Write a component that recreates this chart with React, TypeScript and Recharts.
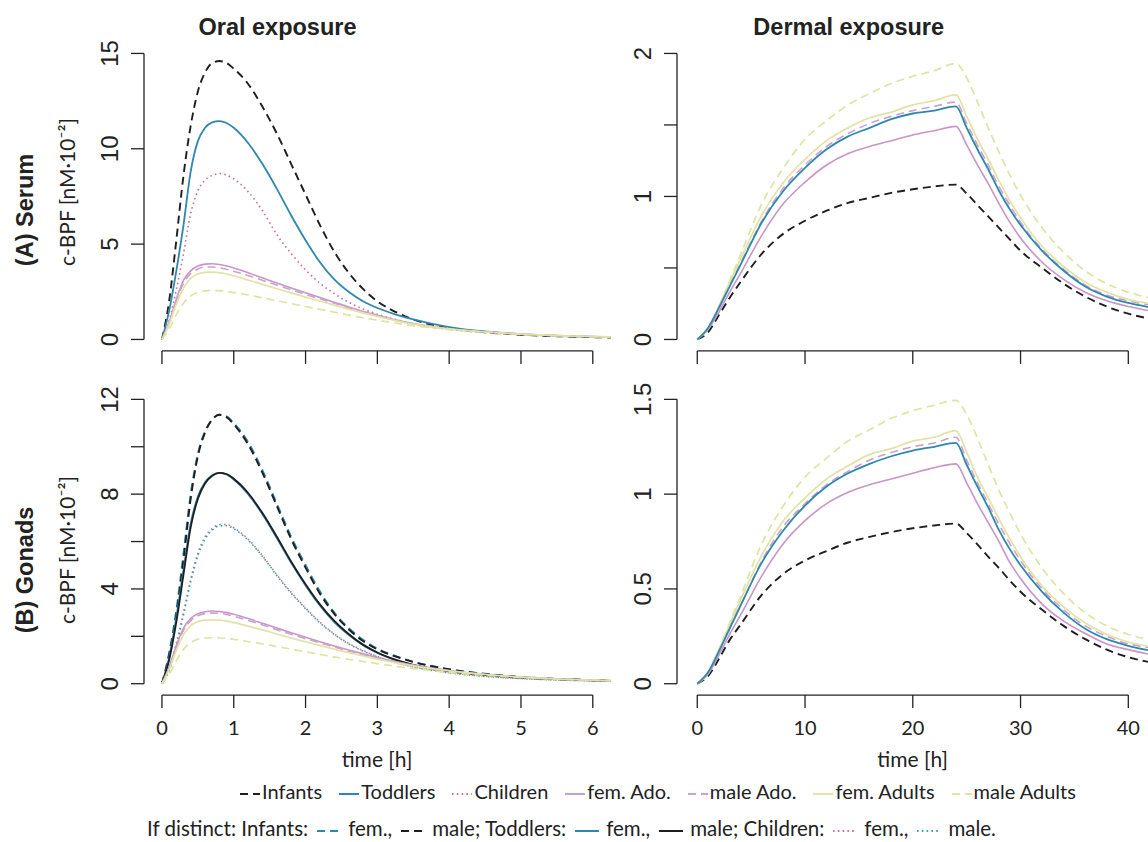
import React from "react";
import { LineChart, Line, XAxis, YAxis, ReferenceLine } from "recharts";

// ---------- time grids ----------
const oralTimes = [0, 0.1, 0.2, 0.3, 0.4, 0.5, 0.6, 0.7, 0.8, 0.9, 1.0, 1.2, 1.4, 1.6, 1.8, 2.0, 2.2, 2.4, 2.6, 2.8, 3.0, 3.25, 3.5, 4.0, 4.5, 5.0, 5.5, 6.0, 6.25];
const dermalTimes = [0, 1, 2, 3, 4, 6, 8, 10, 12, 14, 16, 18, 20, 22, 24, 25, 26, 27, 28, 29, 30, 32, 34, 36, 38, 40, 42, 44];

// ---------- tick values / labels ----------
const oralXTicks = [0, 1, 2, 3, 4, 5, 6];
const dermalXTicks = [0, 10, 20, 30, 40];
const serumOralYTicks = [0, 5, 10, 15];
const serumOralYLabels = ["0", "5", "10", "15"];
const serumDermalYTicks = [0, 0.5, 1, 1.5, 2];
const serumDermalYLabels = ["0", "", "1", "", "2"];
const gonadOralYTicks = [0, 2, 4, 6, 8, 10, 12];
const gonadOralYLabels = ["0", "", "4", "", "8", "", "12"];
const gonadDermalYTicks = [0, 0.5, 1, 1.5];
const gonadDermalYLabels = ["0", "0.5", "1", "1.5"];

// ---------- (A) Serum, oral ----------
const serumOralInfants = [0, 2.0, 5.2, 8.6, 11.2, 13.0, 14.0, 14.5, 14.6, 14.5, 14.2, 13.4, 12.2, 10.8, 9.2, 7.6, 6.0, 4.6, 3.5, 2.65, 2.0, 1.45, 1.05, 0.6, 0.38, 0.25, 0.17, 0.12, 0.1];
const serumOralToddlers = [0, 1.5, 3.6, 6.0, 8.8, 10.4, 11.1, 11.38, 11.45, 11.35, 11.1, 10.3, 9.2, 7.9, 6.5, 5.2, 4.05, 3.15, 2.5, 2.0, 1.65, 1.32, 1.05, 0.65, 0.42, 0.28, 0.19, 0.14, 0.12];
const serumOralChildren = [0, 1.0, 2.6, 4.5, 6.6, 7.8, 8.35, 8.6, 8.7, 8.62, 8.42, 7.75, 6.75, 5.5, 4.5, 3.65, 2.95, 2.4, 1.95, 1.6, 1.32, 1.05, 0.82, 0.53, 0.36, 0.25, 0.18, 0.13, 0.11];
const serumOralFemAdo = [0, 0.9, 2.1, 3.1, 3.6, 3.85, 3.95, 3.97, 3.93, 3.85, 3.75, 3.5, 3.23, 2.96, 2.7, 2.45, 2.2, 1.95, 1.7, 1.47, 1.27, 1.03, 0.83, 0.56, 0.39, 0.28, 0.2, 0.15, 0.13];
const serumOralMaleAdo = [0, 0.85, 2.0, 2.95, 3.45, 3.7, 3.8, 3.8, 3.76, 3.68, 3.58, 3.35, 3.1, 2.85, 2.6, 2.36, 2.13, 1.9, 1.66, 1.44, 1.25, 1.01, 0.82, 0.56, 0.39, 0.28, 0.2, 0.15, 0.13];
const serumOralFemAdults = [0, 0.8, 1.85, 2.7, 3.2, 3.43, 3.52, 3.53, 3.5, 3.43, 3.34, 3.12, 2.89, 2.66, 2.44, 2.22, 2.01, 1.8, 1.59, 1.39, 1.21, 0.99, 0.8, 0.55, 0.39, 0.28, 0.2, 0.15, 0.13];
const serumOralMaleAdults = [0, 0.55, 1.3, 1.9, 2.28, 2.47, 2.55, 2.57, 2.56, 2.52, 2.46, 2.33, 2.18, 2.03, 1.88, 1.73, 1.58, 1.43, 1.28, 1.14, 1.01, 0.86, 0.72, 0.52, 0.38, 0.28, 0.2, 0.15, 0.13];

// ---------- (B) Gonads, oral ----------
const gonadOralInfantsFem = [0, 1.3, 3.1, 5.5, 8.0, 9.7, 10.65, 11.15, 11.35, 11.28, 11.0, 10.2, 9.0, 7.6, 6.2, 5.0, 3.9, 3.0, 2.35, 1.85, 1.48, 1.17, 0.93, 0.61, 0.42, 0.29, 0.2, 0.15, 0.13];
const gonadOralInfantsMale = [0, 1.2, 2.9, 5.2, 7.8, 9.6, 10.6, 11.15, 11.35, 11.25, 10.95, 10.1, 8.9, 7.5, 6.1, 4.9, 3.8, 2.95, 2.3, 1.8, 1.45, 1.15, 0.92, 0.6, 0.41, 0.28, 0.2, 0.15, 0.13];
const gonadOralToddlersFem = [0, 1.1, 2.8, 4.8, 6.75, 7.9, 8.5, 8.8, 8.9, 8.83, 8.62, 8.0, 7.15, 6.15, 5.1, 4.15, 3.3, 2.6, 2.06, 1.62, 1.3, 1.0, 0.79, 0.52, 0.36, 0.26, 0.19, 0.14, 0.12];
const gonadOralToddlersMale = [0, 1.0, 2.6, 4.6, 6.6, 7.8, 8.45, 8.78, 8.9, 8.85, 8.65, 8.05, 7.2, 6.2, 5.15, 4.2, 3.35, 2.65, 2.1, 1.65, 1.32, 1.02, 0.8, 0.53, 0.37, 0.26, 0.19, 0.14, 0.12];
const gonadOralChildrenFem = [0, 0.6, 1.7, 3.0, 4.4, 5.5, 6.2, 6.55, 6.72, 6.72, 6.58, 6.1, 5.4, 4.6, 3.85, 3.2, 2.6, 2.1, 1.7, 1.4, 1.15, 0.9, 0.72, 0.47, 0.32, 0.22, 0.16, 0.12, 0.1];
const gonadOralChildrenMale = [0, 0.55, 1.6, 2.9, 4.3, 5.4, 6.1, 6.48, 6.66, 6.67, 6.54, 6.06, 5.37, 4.57, 3.82, 3.17, 2.57, 2.08, 1.68, 1.38, 1.13, 0.89, 0.71, 0.46, 0.31, 0.22, 0.16, 0.12, 0.1];
const gonadOralFemAdo = [0, 0.7, 1.6, 2.35, 2.75, 2.95, 3.04, 3.07, 3.05, 3.0, 2.93, 2.75, 2.55, 2.35, 2.15, 1.96, 1.77, 1.59, 1.42, 1.26, 1.11, 0.94, 0.79, 0.56, 0.4, 0.29, 0.21, 0.15, 0.13];
const gonadOralMaleAdo = [0, 0.66, 1.52, 2.25, 2.66, 2.87, 2.96, 2.98, 2.97, 2.92, 2.85, 2.67, 2.48, 2.28, 2.09, 1.9, 1.72, 1.55, 1.38, 1.23, 1.09, 0.92, 0.78, 0.55, 0.39, 0.28, 0.2, 0.15, 0.13];
const gonadOralFemAdults = [0, 0.6, 1.4, 2.07, 2.45, 2.62, 2.68, 2.69, 2.68, 2.64, 2.58, 2.43, 2.27, 2.1, 1.93, 1.77, 1.61, 1.46, 1.31, 1.17, 1.04, 0.89, 0.75, 0.54, 0.39, 0.28, 0.2, 0.15, 0.13];
const gonadOralMaleAdults = [0, 0.4, 0.97, 1.45, 1.74, 1.88, 1.93, 1.94, 1.93, 1.91, 1.87, 1.78, 1.68, 1.57, 1.46, 1.35, 1.24, 1.13, 1.03, 0.94, 0.85, 0.74, 0.64, 0.48, 0.36, 0.27, 0.2, 0.15, 0.13];

// ---------- (A) Serum, dermal ----------
const serumDermalInfants = [0, 0.05, 0.17, 0.29, 0.4, 0.6, 0.74, 0.83, 0.9, 0.955, 0.99, 1.025, 1.05, 1.07, 1.083, 1.02, 0.94, 0.86, 0.78, 0.7, 0.62, 0.5, 0.39, 0.3, 0.23, 0.18, 0.145, 0.115];
const serumDermalToddlers = [0, 0.08, 0.22, 0.37, 0.52, 0.82, 1.04, 1.2, 1.33, 1.42, 1.48, 1.54, 1.58, 1.6, 1.63, 1.48, 1.33, 1.19, 1.04, 0.91, 0.8, 0.62, 0.48, 0.37, 0.3, 0.255, 0.225, 0.2];
const serumDermalFemAdo = [0, 0.07, 0.19, 0.33, 0.46, 0.73, 0.95, 1.1, 1.22, 1.3, 1.35, 1.39, 1.43, 1.46, 1.49, 1.36, 1.22, 1.09, 0.95, 0.82, 0.71, 0.54, 0.42, 0.33, 0.27, 0.23, 0.2, 0.17];
const serumDermalMaleAdo = [0, 0.08, 0.22, 0.38, 0.53, 0.83, 1.06, 1.22, 1.35, 1.44, 1.51, 1.56, 1.6, 1.63, 1.66, 1.51, 1.36, 1.22, 1.07, 0.94, 0.82, 0.63, 0.49, 0.38, 0.31, 0.27, 0.24, 0.21];
const serumDermalFemAdults = [0, 0.08, 0.23, 0.4, 0.56, 0.87, 1.1, 1.26, 1.39, 1.48, 1.55, 1.59, 1.64, 1.67, 1.71, 1.56, 1.4, 1.26, 1.11, 0.97, 0.85, 0.65, 0.51, 0.4, 0.33, 0.28, 0.25, 0.22];
const serumDermalMaleAdults = [0, 0.08, 0.23, 0.41, 0.59, 0.95, 1.2, 1.4, 1.53, 1.64, 1.72, 1.79, 1.84, 1.88, 1.93, 1.83, 1.66, 1.48, 1.31, 1.15, 1.01, 0.78, 0.61, 0.48, 0.39, 0.33, 0.29, 0.26];

// ---------- (B) Gonads, dermal ----------
const gonadDermalInfants = [0, 0.04, 0.13, 0.23, 0.31, 0.47, 0.58, 0.65, 0.7, 0.745, 0.775, 0.8, 0.82, 0.835, 0.845, 0.795, 0.735, 0.67, 0.61, 0.545, 0.485, 0.39, 0.305, 0.235, 0.18, 0.14, 0.113, 0.09];
const gonadDermalToddlers = [0, 0.06, 0.17, 0.29, 0.41, 0.64, 0.81, 0.94, 1.04, 1.11, 1.16, 1.2, 1.23, 1.25, 1.27, 1.155, 1.04, 0.93, 0.81, 0.71, 0.625, 0.485, 0.375, 0.29, 0.235, 0.2, 0.175, 0.155];
const gonadDermalFemAdo = [0, 0.05, 0.15, 0.26, 0.36, 0.57, 0.74, 0.86, 0.95, 1.01, 1.05, 1.08, 1.11, 1.14, 1.16, 1.06, 0.95, 0.85, 0.75, 0.64, 0.555, 0.42, 0.33, 0.265, 0.21, 0.18, 0.155, 0.135];
const gonadDermalMaleAdo = [0, 0.06, 0.17, 0.3, 0.41, 0.65, 0.83, 0.95, 1.05, 1.12, 1.18, 1.22, 1.25, 1.27, 1.3, 1.18, 1.06, 0.95, 0.84, 0.74, 0.65, 0.5, 0.39, 0.305, 0.25, 0.21, 0.19, 0.165];
const gonadDermalFemAdults = [0, 0.06, 0.18, 0.31, 0.44, 0.68, 0.86, 0.98, 1.08, 1.15, 1.21, 1.24, 1.28, 1.3, 1.335, 1.22, 1.09, 0.98, 0.87, 0.765, 0.67, 0.515, 0.405, 0.32, 0.26, 0.22, 0.195, 0.17];
const gonadDermalMaleAdults = [0, 0.06, 0.18, 0.32, 0.46, 0.74, 0.94, 1.09, 1.19, 1.28, 1.34, 1.4, 1.44, 1.47, 1.495, 1.42, 1.295, 1.155, 1.02, 0.9, 0.79, 0.61, 0.475, 0.375, 0.305, 0.26, 0.23, 0.2];

// ---------- legend labels ----------
const legendLabels = ["Infants", "Toddlers", "Children", "fem. Ado.", "male Ado.", "fem. Adults", "male Adults"];

// ---------- styles ----------
const BLACK = "#1e1e1e";
const TEAL = "#2f87ad";
const PINKDOT = "#c9709c";
const LILAC = "#c895c7";
const LILAC2 = "#cca0cf";
const YEL = "#e2e2a6";
const YEL2 = "#dde5a2";
const TEALDOT = "#3aa39e";
const DASH = "8 5";
const DOT = "1.6 3.2";
const AXIS = "#222";

type Sty = { color: string; dash?: string; w: number };
const stInfants: Sty = { color: BLACK, dash: DASH, w: 1.9 };
const stInfantsFem: Sty = { color: TEAL, dash: DASH, w: 1.9 };
const stToddlers: Sty = { color: TEAL, w: 1.8 };
const stToddlersMale: Sty = { color: BLACK, w: 1.8 };
const stChildren: Sty = { color: PINKDOT, dash: DOT, w: 1.6 };
const stChildrenMale: Sty = { color: TEALDOT, dash: DOT, w: 1.6 };
const stFemAdo: Sty = { color: LILAC, w: 1.6 };
const stMaleAdo: Sty = { color: LILAC2, dash: DASH, w: 1.6 };
const stFemAdults: Sty = { color: YEL, w: 1.7 };
const stMaleAdults: Sty = { color: YEL2, dash: DASH, w: 1.7 };
const legendStyles = [stInfants, stToddlers, stChildren, stFemAdo, stMaleAdo, stFemAdults, stMaleAdults];

type S = Sty & { key: string; values: number[] };
const mk = (key: string, values: number[], st: Sty): S => ({ key, values, ...st });

const seriesTL: S[] = [
  mk("inf", serumOralInfants, stInfants),
  mk("tod", serumOralToddlers, stToddlers),
  mk("chi", serumOralChildren, stChildren),
  mk("fado", serumOralFemAdo, stFemAdo),
  mk("mado", serumOralMaleAdo, stMaleAdo),
  mk("fadu", serumOralFemAdults, stFemAdults),
  mk("madu", serumOralMaleAdults, stMaleAdults),
];
const seriesBL: S[] = [
  mk("inff", gonadOralInfantsFem, stInfantsFem),
  mk("infm", gonadOralInfantsMale, stInfants),
  mk("todf", gonadOralToddlersFem, stToddlers),
  mk("todm", gonadOralToddlersMale, stToddlersMale),
  mk("chif", gonadOralChildrenFem, stChildren),
  mk("chim", gonadOralChildrenMale, stChildrenMale),
  mk("fado", gonadOralFemAdo, stFemAdo),
  mk("mado", gonadOralMaleAdo, stMaleAdo),
  mk("fadu", gonadOralFemAdults, stFemAdults),
  mk("madu", gonadOralMaleAdults, stMaleAdults),
];
const seriesTR: S[] = [
  mk("inf", serumDermalInfants, stInfants),
  mk("fado", serumDermalFemAdo, stFemAdo),
  mk("mado", serumDermalMaleAdo, stMaleAdo),
  mk("fadu", serumDermalFemAdults, stFemAdults),
  mk("madu", serumDermalMaleAdults, stMaleAdults),
  mk("tod", serumDermalToddlers, stToddlers),
];
const seriesBR: S[] = [
  mk("inf", gonadDermalInfants, stInfants),
  mk("fado", gonadDermalFemAdo, stFemAdo),
  mk("mado", gonadDermalMaleAdo, stMaleAdo),
  mk("fadu", gonadDermalFemAdults, stFemAdults),
  mk("madu", gonadDermalMaleAdults, stMaleAdults),
  mk("tod", gonadDermalToddlers, stToddlers),
];

type PanelProps = {
  px: number; py: number; pw: number; ph: number;
  xDomain: [number, number]; yDomain: [number, number];
  xTicks: number[]; yTicks: number[]; yLabels: string[];
  showX: boolean; times: number[]; series: S[]; xEnd: number; yEnd: number;
};

function Panel(p: PanelProps) {
  const ML = 110, MT = 10, MR = 10, MB = 80;
  const data = p.times.map((t, i) => {
    const r: Record<string, number> = { t };
    p.series.forEach((s) => { r[s.key] = s.values[i]; });
    return r;
  });
  const yTick = (tp: any) => {
    const idx = p.yTicks.indexOf(tp.payload.value);
    const label = idx >= 0 ? p.yLabels[idx] : "";
    if (!label) return <g />;
    const bx = tp.x - 13;
    return (
      <text x={bx} y={tp.y} transform={`rotate(-90 ${bx} ${tp.y})`} textAnchor="middle"
        fontFamily="'Liberation Sans', Arial, sans-serif" fontSize={24} fill={AXIS}>{label}</text>
    );
  };
  const xTick = (tp: any) => {
    if (!p.showX) return <g />;
    return (
      <text x={tp.x} y={tp.y + 27} textAnchor="middle" fontFamily="Lato, sans-serif" fontSize={20} fill={AXIS}>
        {String(tp.payload.value)}
      </text>
    );
  };
  return (
    <div style={{ position: "absolute", left: p.px - ML, top: p.py - MT }}>
      <LineChart width={ML + p.pw + MR} height={MT + p.ph + MB} data={data}
        margin={{ top: MT, right: MR, left: 0, bottom: 0 }}>
        <XAxis dataKey="t" type="number" domain={p.xDomain} ticks={p.xTicks} interval={0} allowDataOverflow
          axisLine={false} tickLine={{ stroke: AXIS, strokeWidth: 1.3 }} tickSize={13} tickMargin={0}
          tick={xTick} height={MB} />
        <YAxis type="number" domain={p.yDomain} ticks={p.yTicks} interval={0} allowDataOverflow
          axisLine={false} tickLine={{ stroke: AXIS, strokeWidth: 1.3 }} tickSize={13} tickMargin={0}
          tick={yTick} width={ML} />
        <ReferenceLine segment={[{ x: p.xDomain[0], y: 0 }, { x: p.xDomain[0], y: p.yEnd }]}
          stroke={AXIS} strokeWidth={1.3} ifOverflow="visible" />
        <ReferenceLine segment={[{ x: 0, y: p.yDomain[0] }, { x: p.xEnd, y: p.yDomain[0] }]}
          stroke={AXIS} strokeWidth={1.3} ifOverflow="visible" />
        {p.series.map((s) => (
          <Line key={s.key} dataKey={s.key} type="monotone" stroke={s.color} strokeWidth={s.w}
            strokeDasharray={s.dash} dot={false} activeDot={false} isAnimationActive={false} />
        ))}
      </LineChart>
    </div>
  );
}

function Sample({ st, len = 20, ml = 2, mr = 2 }: { st: Sty; len?: number; ml?: number; mr?: number }) {
  return (
    <svg width={len} height={12} style={{ verticalAlign: "middle", marginRight: mr, marginLeft: ml }}>
      <line x1={0} y1={6} x2={len} y2={6} stroke={st.color} strokeWidth={st.w + 0.2} strokeDasharray={st.dash} />
    </svg>
  );
}

const TXT = "#222";

export default function App() {
  const legendFont: React.CSSProperties = {
    position: "absolute", fontFamily: "Lato, sans-serif", fontSize: 20, color: TXT,
    whiteSpace: "nowrap", lineHeight: "24px",
  };
  const s2 = { len: 24, ml: 9, mr: 7 };
  return (
    <div style={{ position: "absolute", left: 0, top: 0, width: 1148, height: 842, overflow: "hidden", background: "#fff" }}>
      <Panel px={143.5} py={41.5} pw={484.7} ph={308.9} xDomain={[-0.25, 6.5]} yDomain={[-0.6, 15.6]}
        xTicks={oralXTicks} yTicks={serumOralYTicks} yLabels={serumOralYLabels} showX={false}
        times={oralTimes} series={seriesTL} xEnd={6} yEnd={15} />
      <Panel px={676.6} py={41.5} pw={547} ph={308.9} xDomain={[-1.88, 48.88]} yDomain={[-0.08, 2.08]}
        xTicks={dermalXTicks} yTicks={serumDermalYTicks} yLabels={serumDermalYLabels} showX={false}
        times={dermalTimes} series={seriesTR} xEnd={40} yEnd={2} />
      <Panel px={143.5} py={387.6} pw={484.7} ph={307.1} xDomain={[-0.25, 6.5]} yDomain={[-0.48, 12.48]}
        xTicks={oralXTicks} yTicks={gonadOralYTicks} yLabels={gonadOralYLabels} showX={true}
        times={oralTimes} series={seriesBL} xEnd={6} yEnd={12} />
      <Panel px={676.6} py={387.6} pw={547} ph={307.1} xDomain={[-1.88, 48.88]} yDomain={[-0.06, 1.56]}
        xTicks={dermalXTicks} yTicks={gonadDermalYTicks} yLabels={gonadDermalYLabels} showX={true}
        times={dermalTimes} series={seriesBR} xEnd={40} yEnd={1.5} />

      <svg width={1148} height={842} style={{ position: "absolute", left: 0, top: 0, pointerEvents: "none" }}>
        <g fontFamily="'Liberation Sans', Arial, sans-serif" fontWeight="bold" fontSize={23.5} fill={TXT}>
          <text x={277.5} y={35} textAnchor="middle">Oral exposure</text>
          <text x={848.7} y={35} textAnchor="middle">Dermal exposure</text>
          <text x={33} y={210} textAnchor="middle" transform="rotate(-90 33 210)">(A) Serum</text>
          <text x={33} y={570} textAnchor="middle" transform="rotate(-90 33 570)">(B) Gonads</text>
        </g>
        <g fontFamily="Lato, sans-serif" fontSize={21} fill={TXT}>
          <text x={75} y={192} textAnchor="middle" transform="rotate(-90 75 192)">c-BPF [nM·10⁻²]</text>
          <text x={75} y={550} textAnchor="middle" transform="rotate(-90 75 550)">c-BPF [nM·10⁻²]</text>
          <text x={377} y={767} textAnchor="middle">time [h]</text>
          <text x={912.6} y={767} textAnchor="middle">time [h]</text>
        </g>
      </svg>

      <div style={{ ...legendFont, left: 238, top: 779 }}>
        {legendLabels.map((lab, i) => (
          <span key={lab} style={{ marginRight: 15 }}>
            <Sample st={legendStyles[i]} />{lab}
          </span>
        ))}
      </div>
      <div style={{ ...legendFont, left: 147, top: 816, fontSize: 20.5, lineHeight: "24px" }}>
        If distinct: Infants:<Sample st={stInfantsFem} {...s2} />fem.,<Sample st={stInfants} {...s2} />male;
        {" "}Toddlers:<Sample st={stToddlers} {...s2} />fem.,<Sample st={stToddlersMale} {...s2} />male;
        {" "}Children:<Sample st={stChildren} {...s2} />fem.,<Sample st={stChildrenMale} {...s2} />male.
      </div>
    </div>
  );
}
